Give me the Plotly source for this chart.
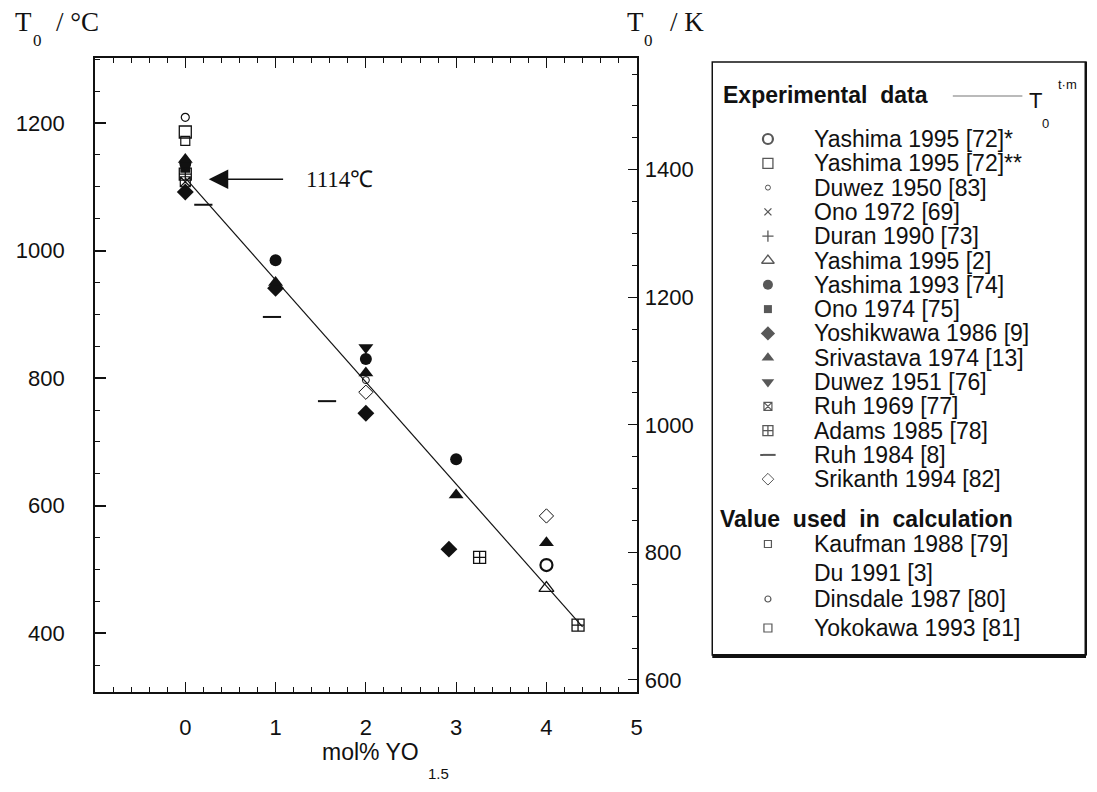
import numpy as np
import plotly.graph_objects as go

# ---------------- data: x = mol% YO1.5, y = T0 (°C) ----------------
yashima95a_x = [4.0];                    yashima95a_y = [507]
yashima95b_x = [0.0];                    yashima95b_y = [1186]
duwez50_x = [2.0];                       duwez50_y = [797]
ono72_x = [];                            ono72_y = []
duran90_x = [];                          duran90_y = []
yashima95c_x = [4.0];                    yashima95c_y = [471]
yashima93_x = [0.0, 1.0, 2.0, 3.0];      yashima93_y = [1137, 985, 830, 673]
ono74_x = [0.0];                         ono74_y = [1130]
yoshikawa_x = [0.0, 1.0, 2.0, 2.92];     yoshikawa_y = [1092, 941, 745, 532]
srivastava_x = [0.0, 1.0, 2.0, 3.0, 4.0]; srivastava_y = [1143, 950, 808, 617, 542]
duwez51_x = [2.0];                       duwez51_y = [848]
ruh69_x = [0.0];                         ruh69_y = [1108]
adams_x = [0.0, 3.26, 4.35];             adams_y = [1120, 519, 413]
ruh84_x = [0.2, 0.96, 1.57];             ruh84_y = [1072, 896, 764]
srikanth_x = [2.0, 4.0];                 srikanth_y = [778, 584]
kaufman_x = [0.0];                       kaufman_y = [1172]
du91_x = [];                             du91_y = []
dinsdale_x = [0.0];                      dinsdale_y = [1209]
yokokawa_x = [];                         yokokawa_y = []

t0_line_x = [0.0, 4.4]
t0_line_y = [1114, 410]

x_ticks = [0, 1, 2, 3, 4, 5]
c_ticks = [400, 600, 800, 1000, 1200]
k_ticks = [600, 800, 1000, 1200, 1400]

exp_labels = ["Yashima 1995 [72]*", "Yashima 1995 [72]**", "Duwez 1950 [83]",
              "Ono 1972 [69]", "Duran 1990 [73]", "Yashima 1995 [2]",
              "Yashima 1993 [74]", "Ono 1974 [75]", "Yoshikwawa 1986 [9]",
              "Srivastava 1974 [13]", "Duwez 1951 [76]", "Ruh 1969 [77]",
              "Adams 1985 [78]", "Ruh 1984 [8]", "Srikanth 1994 [82]"]
calc_labels = ["Kaufman 1988 [79]", "Du 1991 [3]", "Dinsdale 1987 [80]", "Yokokawa 1993 [81]"]

series_x = [yashima95a_x, yashima95b_x, duwez50_x, ono72_x, duran90_x, yashima95c_x,
            yashima93_x, ono74_x, yoshikawa_x, srivastava_x, duwez51_x, ruh69_x,
            adams_x, ruh84_x, srikanth_x, kaufman_x, du91_x, dinsdale_x, yokokawa_x]
series_y = [yashima95a_y, yashima95b_y, duwez50_y, ono72_y, duran90_y, yashima95c_y,
            yashima93_y, ono74_y, yoshikawa_y, srivastava_y, duwez51_y, ruh69_y,
            adams_y, ruh84_y, srikanth_y, kaufman_y, du91_y, dinsdale_y, yokokawa_y]
labels = exp_labels + calc_labels

# ---------------- styles ----------------
K = "#111111"
styles = [
    dict(symbol="circle-open", size=12, lw=2.2),
    dict(symbol="square-open", size=12, lw=1.3),
    dict(symbol="circle-open", size=7, lw=1.0),
    dict(symbol="x-thin-open", size=9, lw=1.3),
    dict(symbol="cross-thin-open", size=10, lw=1.3),
    dict(symbol="triangle-up-open", size=13, lw=1.3),
    dict(symbol="circle", size=12, lw=0),
    dict(symbol="square", size=10, lw=0),
    dict(symbol="diamond", size=13, lw=0),
    dict(symbol="triangle-up", size=13, lw=0),
    dict(symbol="triangle-down", size=13, lw=0),
    dict(symbol="square-x-open", size=10, lw=1.2),
    dict(symbol="square-cross-open", size=12, lw=1.3),
    dict(symbol="line-ew-open", size=13, lw=2.0),
    dict(symbol="diamond-open", size=11, lw=1.0),
    dict(symbol="square-open", size=9, lw=1.2),
    dict(symbol="circle-open", size=0, lw=0),
    dict(symbol="circle-open", size=8, lw=1.2),
    dict(symbol="square-open", size=10, lw=1.2),
]

fig = go.Figure()

fig.add_trace(go.Scatter(x=t0_line_x, y=t0_line_y, mode="lines",
                         line=dict(color=K, width=1.2), showlegend=False, hoverinfo="skip"))

for xs, ys, lab, st in zip(series_x, series_y, labels, styles):
    fig.add_trace(go.Scatter(
        x=xs, y=ys, mode="markers", name=lab, showlegend=False,
        marker=dict(symbol=st["symbol"], size=st["size"], color=K,
                    line=dict(color=K, width=st["lw"]))))

# dummy trace to activate the Kelvin axis
fig.add_trace(go.Scatter(x=[None], y=[None], yaxis="y2", showlegend=False))

# ---------------- custom legend (pixel-based axis) ----------------
W, H = 1097, 792
ml, mr, mt, mb = 95, 4, 58, 100
pw = W - ml - mr
plot_right = 640
box_l, box_r, box_t, box_b = 716, 1092, 62, 655

row_y_exp = [139 + i * 24.3 for i in range(len(exp_labels))]
row_y_calc = [544, 573, 599, 628]
mark_x, text_x = 772, 816

leg_y = row_y_exp + row_y_calc
leg_sym = [s["symbol"] for s in styles]
leg_size = [max(s["size"] - 2, 0) for s in styles]
leg_lw = [s["lw"] for s in styles]

fig.add_trace(go.Scatter(
    x=[mark_x] * len(leg_y), y=leg_y, mode="markers", xaxis="x3", yaxis="y3",
    showlegend=False, hoverinfo="skip",
    marker=dict(symbol=leg_sym, size=leg_size, color=K,
                line=dict(color=K, width=leg_lw))))

leg_font = dict(family="Liberation Sans, Arial, sans-serif", size=23, color=K)
ann = []
for yy, lab in zip(leg_y, labels):
    ann.append(dict(x=text_x, y=yy, xref="x3", yref="y3", text=lab, showarrow=False,
                    xanchor="left", yanchor="middle", font=leg_font))
ann.append(dict(x=725, y=95, xref="x3", yref="y3", text="<b>Experimental  data</b>",
                showarrow=False, xanchor="left", yanchor="middle",
                font=dict(family="Liberation Sans, Arial", size=23, color=K)))
ann.append(dict(x=1033, y=100, xref="x3", yref="y3", text="T", showarrow=False,
                xanchor="left", yanchor="middle",
                font=dict(family="Liberation Sans, Arial", size=22, color=K)))
ann.append(dict(x=1046, y=123, xref="x3", yref="y3", text="0", showarrow=False,
                xanchor="left", yanchor="middle",
                font=dict(family="Liberation Sans, Arial", size=13, color=K)))
ann.append(dict(x=1062, y=84, xref="x3", yref="y3", text="t·m", showarrow=False,
                xanchor="left", yanchor="middle",
                font=dict(family="Liberation Sans, Arial", size=13, color=K)))
ann.append(dict(x=722, y=519, xref="x3", yref="y3", text="<b>Value  used  in  calculation</b>",
                showarrow=False, xanchor="left", yanchor="middle",
                font=dict(family="Liberation Sans, Arial", size=23, color=K)))

shapes = [
    dict(type="rect", xref="x3", yref="y3", x0=box_l, x1=box_r, y0=box_t, y1=box_b,
         line=dict(color=K, width=1.5)),
    dict(type="line", xref="x3", yref="y3", x0=box_l, x1=box_r, y0=box_b + 1, y1=box_b + 1,
         line=dict(color=K, width=4)),
    dict(type="line", xref="x3", yref="y3", x0=box_r, x1=box_r, y0=box_t, y1=box_b,
         line=dict(color=K, width=3)),
    dict(type="line", xref="x3", yref="y3", x0=958, x1=1028, y0=96, y1=96,
         line=dict(color="#777777", width=1.2)),
]

# arrow + label 1114 °C
ann.append(dict(x=0.26, y=1112, ax=1.1, ay=1112, xref="x", yref="y", axref="x", ayref="y",
                text="", showarrow=True, arrowhead=2, arrowsize=2.6, arrowwidth=1.5,
                arrowcolor=K))
ann.append(dict(x=1.32, y=1112, xref="x", yref="y", text="1114℃", showarrow=False,
                xanchor="left", yanchor="middle",
                font=dict(family="Liberation Serif, Times New Roman, serif", size=23, color=K)))

def px_x(p):
    return (p - ml) / pw

def px_y(p):
    return (H - mb - p) / (H - mt - mb)

serif = "Liberation Serif, Times New Roman, serif"
sans = "Liberation Sans, Arial, sans-serif"
for txt, xp, yp, sz, fam in [
    ("T", 13, 22, 27, serif), ("0", 31, 41, 17, serif), ("/ °C", 54, 22, 27, serif),
    ("T", 628, 22, 27, serif), ("0", 645, 41, 17, serif), ("/ K", 671, 22, 27, serif),
    ("mol% YO", 321, 752, 23, sans), ("1.5", 428, 773, 15, sans),
]:
    ann.append(dict(x=px_x(xp), y=px_y(yp), xref="paper", yref="paper", text=txt,
                    showarrow=False, xanchor="left", yanchor="middle",
                    font=dict(family=fam, size=sz, color=K)))

xdom = [0, (plot_right - ml) / pw]
c_range = [308, 1302]
k_range = [c_range[0] + 273.15, c_range[1] + 273.15]

tickfont = dict(family=sans, size=22, color=K)

fig.update_layout(
    width=W, height=H, margin=dict(l=ml, r=mr, t=mt, b=mb),
    paper_bgcolor="white", plot_bgcolor="white", showlegend=False,
    annotations=ann, shapes=shapes,
    xaxis=dict(domain=xdom, range=[-1, 5], tickvals=x_ticks, ticks="inside", ticklen=10,
               tickwidth=1.3, tickcolor=K, showline=True, linecolor=K, linewidth=1.5,
               mirror="ticks", showgrid=False, zeroline=False, tickfont=tickfont,
               ticklabelstandoff=15,
               minor=dict(tickvals=list(np.round(np.arange(-1, 5.001, 0.2), 2)),
                          ticks="inside", ticklen=5, tickwidth=1.2, tickcolor=K)),
    yaxis=dict(range=c_range, tickvals=c_ticks, ticks="inside", ticklen=11, tickwidth=1.5,
               tickcolor=K, showline=True, linecolor=K, linewidth=1.8, mirror=True,
               showgrid=False, zeroline=False, tickfont=tickfont, ticklabelstandoff=24,
               minor=dict(tickvals=list(range(350, 1301, 50)), ticks="inside", ticklen=5,
                          tickwidth=1.2, tickcolor=K)),
    yaxis2=dict(range=k_range, overlaying="y", side="right", anchor="x",
                tickvals=k_ticks, ticks="inside", ticklen=9, tickwidth=1.3, tickcolor=K,
                showline=True, linecolor=K, linewidth=1.5, showgrid=False, zeroline=False,
                tickfont=tickfont, ticklabelstandoff=2,
                minor=dict(tickvals=list(range(600, 1576, 50)), ticks="inside", ticklen=5,
                           tickwidth=1.2, tickcolor=K)),
    xaxis3=dict(domain=[(box_l - 10 - ml) / pw, 1.0], range=[box_l - 10, W - mr],
                visible=False, anchor="y3", fixedrange=True),
    yaxis3=dict(domain=[0, 1], range=[H - mb, mt], visible=False, anchor="x3",
                fixedrange=True),
)

fig.write_html("out.html")
